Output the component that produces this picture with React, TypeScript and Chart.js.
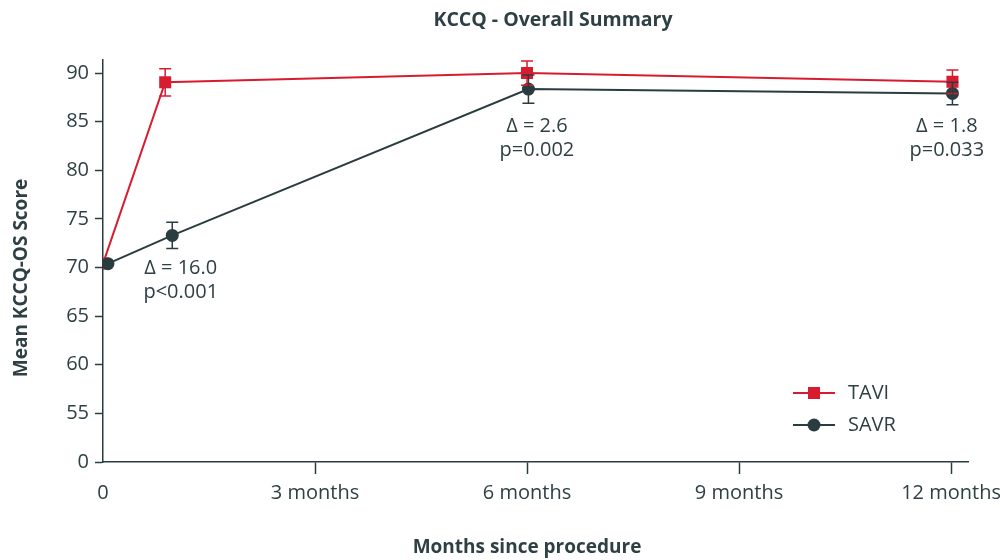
import React, { useEffect, useRef } from "react";
import { Chart, registerables } from "chart.js";

Chart.register(...registerables);

const RED = "#d81c30";
const DARK = "#2b3c40";
const TEXT = "#2f4044";

const tickMonths = [0, 3, 6, 9, 12];
const tickMonthLabels = ["0", "3 months", "6 months", "9 months", "12 months"];
const yTickValues = [50, 55, 60, 65, 70, 75, 80, 85, 90];
const yTickLabels = ["0", "55", "60", "65", "70", "75", "80", "85", "90"];

const taviMonths = [0, 0.88, 6.0, 12.02];
const taviScores = [70.4, 89.05, 90.0, 89.1];
const taviErrors = [0, 1.4, 1.25, 1.2];

const savrMonths = [0.07, 0.98, 6.02, 12.02];
const savrScores = [70.4, 73.3, 88.35, 87.9];
const savrErrors = [0, 1.35, 1.45, 1.15];

const annotMonths = [1.1, 6.14, 11.94];
const annotScores = [69.95, 84.55, 84.55];
const annotDelta = ["Δ = 16.0", "Δ = 2.6", "Δ = 1.8"];
const annotP = ["p<0.001", "p=0.002", "p=0.033"];

const legendLabels = ["TAVI", "SAVR"];

const FONT = "'Open Sans', 'Noto Sans', sans-serif";

export default function App() {
  const ref = useRef<HTMLCanvasElement | null>(null);

  useEffect(() => {
    if (!ref.current) return;
    const errorsByDataset = [taviErrors, savrErrors];

    const overlay = {
      id: "overlay",
      afterDatasetsDraw(chart: any) {
        const ctx = chart.ctx;
        const y = chart.scales.y;
        [0, 1].forEach((di) => {
          const meta = chart.getDatasetMeta(di);
          const ds = chart.data.datasets[di];
          const errs = errorsByDataset[di];
          ctx.save();
          ctx.strokeStyle = ds.borderColor;
          ctx.lineWidth = 1.5;
          meta.data.forEach((pt: any, i: number) => {
            const e = errs[i];
            if (!e) return;
            const v = (ds.data[i] as any).y;
            const yt = y.getPixelForValue(v + e);
            const yb = y.getPixelForValue(v - e);
            ctx.beginPath();
            ctx.moveTo(pt.x, yt);
            ctx.lineTo(pt.x, yb);
            ctx.moveTo(pt.x - 6, yt);
            ctx.lineTo(pt.x + 6, yt);
            ctx.moveTo(pt.x - 6, yb);
            ctx.lineTo(pt.x + 6, yb);
            ctx.stroke();
          });
          ctx.restore();
        });
      },
      afterDraw(chart: any) {
        const ctx = chart.ctx;
        const x = chart.scales.x;
        const y = chart.scales.y;
        const ca = chart.chartArea;
        ctx.save();
        ctx.fillStyle = TEXT;
        ctx.textAlign = "center";
        ctx.textBaseline = "middle";
        ctx.font = `20px ${FONT}`;
        annotMonths.forEach((m, i) => {
          const px = x.getPixelForValue(m);
          const py = y.getPixelForValue(annotScores[i]);
          ctx.fillText(annotDelta[i], px, py);
          ctx.fillText(annotP[i], px, py + 24);
        });
        ctx.font = `bold 19.5px ${FONT}`;
        ctx.fillText("KCCQ - Overall Summary", 553, 20);
        ctx.font = `bold 19px ${FONT}`;
        ctx.fillText("Months since procedure", 527, 548);
        ctx.save();
        ctx.translate(22, 278);
        ctx.rotate(-Math.PI / 2);
        ctx.fillText("Mean KCCQ-OS Score", 0, 0);
        ctx.restore();
        const colors = [RED, DARK];
        const styles = ["rect", "circle"];
        legendLabels.forEach((lab, i) => {
          const ly = ca.bottom - 69 + i * 32;
          const lx0 = ca.right - 175;
          ctx.strokeStyle = colors[i];
          ctx.lineWidth = 2;
          ctx.beginPath();
          ctx.moveTo(lx0, ly);
          ctx.lineTo(lx0 + 42, ly);
          ctx.stroke();
          ctx.fillStyle = colors[i];
          if (styles[i] === "rect") {
            ctx.fillRect(lx0 + 21 - 6, ly - 6, 12, 12);
          } else {
            ctx.beginPath();
            ctx.arc(lx0 + 21, ly, 6.5, 0, Math.PI * 2);
            ctx.fill();
          }
          ctx.fillStyle = TEXT;
          ctx.textAlign = "left";
          ctx.font = `20px ${FONT}`;
          ctx.fillText(lab, lx0 + 55, ly);
        });
        ctx.restore();
      },
    };

    const chart = new Chart(ref.current, {
      type: "line",
      data: {
        datasets: [
          {
            label: "TAVI",
            data: taviMonths.map((m, i) => ({ x: m, y: taviScores[i] })),
            borderColor: RED,
            backgroundColor: RED,
            borderWidth: 2,
            pointStyle: "rect",
            pointRadius: 8.5,
            pointBorderWidth: 0,
            order: 1,
          },
          {
            label: "SAVR",
            data: savrMonths.map((m, i) => ({ x: m, y: savrScores[i] })),
            borderColor: DARK,
            backgroundColor: DARK,
            borderWidth: 2,
            pointStyle: "circle",
            pointRadius: 6.5,
            pointBorderWidth: 0,
            order: 0,
          },
        ],
      },
      options: {
        animation: false,
        responsive: false,
        layout: { padding: { top: 60, right: 32, left: 0, bottom: 0 } },
        plugins: {
          legend: { display: false },
          tooltip: { enabled: false },
          title: { display: false },
        },
        scales: {
          x: {
            type: "linear",
            min: 0,
            max: 12.24,
            afterBuildTicks: (s: any) => {
              s.ticks = tickMonths.map((v) => ({ value: v }));
            },
            afterFit: (s: any) => {
              s.height = 98;
              s.paddingLeft = 0;
              s.paddingRight = 0;
            },
            ticks: {
              padding: 7,
              color: TEXT,
              font: { family: FONT, size: 20 },
              maxRotation: 0,
              callback: (v: any) => {
                const i = tickMonths.indexOf(Number(v));
                return i >= 0 ? tickMonthLabels[i] : "";
              },
            },
            grid: {
              drawOnChartArea: false,
              drawTicks: true,
              tickLength: 12,
              tickWidth: 1.5,
              tickColor: (c: any) => (c.tick && c.tick.value === 0 ? "rgba(0,0,0,0)" : DARK),
            },
            border: { color: DARK, width: 1.5 },
          },
          y: {
            type: "linear",
            min: 50,
            max: 91.34,
            afterBuildTicks: (s: any) => {
              s.ticks = yTickValues.map((v) => ({ value: v }));
            },
            afterFit: (s: any) => {
              s.width = 103;
              s.paddingTop = 0;
              s.paddingBottom = 0;
            },
            ticks: {
              padding: 6,
              color: TEXT,
              font: { family: FONT, size: 20 },
              callback: (v: any) => {
                const i = yTickValues.indexOf(Number(v));
                return i >= 0 ? yTickLabels[i] : "";
              },
            },
            grid: {
              drawOnChartArea: false,
              drawTicks: true,
              tickLength: 8,
              tickWidth: 1.5,
              tickColor: DARK,
            },
            border: { color: DARK, width: 1.5 },
          },
        },
      },
      plugins: [overlay],
    } as any);

    return () => chart.destroy();
  }, []);

  return (
    <div style={{ position: "fixed", left: 0, top: 0, width: 1000, height: 560, background: "#fff" }}>
      <canvas ref={ref} width={1000} height={560} />
    </div>
  );
}
